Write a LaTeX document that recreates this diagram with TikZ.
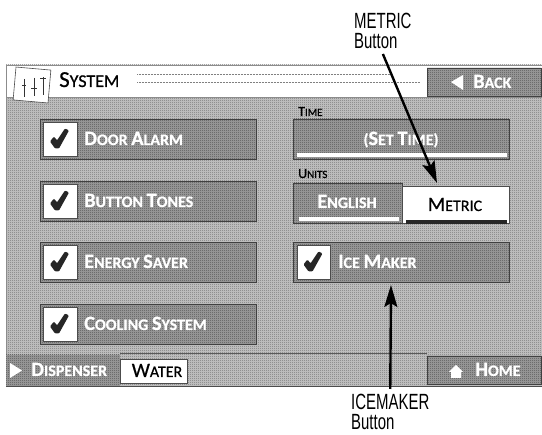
\documentclass[tikz,border=0pt]{standalone}
\usepackage{fontspec}
\setmainfont[FakeBold=0.7]{Carlito}
\newfontfamily\calloutfont[FakeStretch=0.68]{Liberation Sans}
\usepackage{tikz}
\usetikzlibrary{arrows.meta, patterns}
\newcommand{\ic}[1]{\scalebox{1.27}{#1}}
\pgfdeclarepatternformonly{dither}{\pgfqpoint{0pt}{0pt}}{\pgfqpoint{2pt}{2pt}}{\pgfqpoint{2pt}{2pt}}{%
	\pgfpathrectangle{\pgfqpoint{0pt}{0pt}}{\pgfqpoint{1pt}{1pt}}%
	\pgfpathrectangle{\pgfqpoint{1pt}{1pt}}{\pgfqpoint{1pt}{1pt}}%
	\pgfusepath{fill}}
\begin{document}
\begin{tikzpicture}[x=1pt, y=-1pt,
	btn/.style={draw=black!75, line width=0.8pt, preaction={fill=black!38}, pattern=dither, pattern color=black!68, inner sep=0pt},
	whitebox/.style={draw=black!70, line width=0.6pt, fill=white, inner sep=0pt},
	bigbtn/.style={btn, minimum width=216pt, minimum height=40pt},
	tickbox/.style={whitebox, minimum width=34pt, minimum height=34pt},
	wtext/.style={text=white, inner sep=0pt, font=\fontsize{16}{16}\bfseries},
	btext/.style={text=black, inner sep=0pt, font=\fontsize{16}{16}\selectfont},
	small/.style={text=black, inner sep=0pt, font=\fontsize{11}{11}\selectfont},
	callout/.style={inner sep=0pt, align=left, font=\fontsize{22}{20}\calloutfont},
	pointer/.style={line width=2.4pt, -{Stealth[length=22pt, width=13pt, inset=4pt]}},
	tickmark/.pic={\fill[black!85, rounded corners=1pt] (-10,2) -- (-6,-3) -- (-3,1) -- (5,-11) -- (9,-9) -- (-1,9) -- (-5,9) -- cycle;}]
	\useasboundingbox (0,0) rectangle (542,435);

	% Экран и заголовок
	\fill[black!22] (6,65) rectangle (542,386);
	\fill[pattern=dither, pattern color=black!55] (6,65) rectangle (542,386);
	\fill[white] (6,66) rectangle (542,98);
	\draw[black!45, line width=0.8pt] (6,386) -- (6,65) -- (542,65);
	\draw[black!45, line width=1pt] (6,98) -- (542,98);
	\draw[black!70, line width=0.8pt] (6,386) -- (542,386);
	\draw[black!50, densely dotted, line width=0.5pt] (137,74) -- (390,74);
	\draw[black!50, densely dotted, line width=0.5pt] (137,82) -- (420,82);

	% Значок и название
	\node[whitebox, rotate=-5, minimum width=35pt, minimum height=33pt] (sysicon) at (32,85) {};
	\draw[black!80, line width=0.7pt] (24,79) -- (24,97) (22,85) -- (26,85);
	\draw[black!80, line width=0.7pt] (34,78) -- (34,96) (31,88) -- (37,88);
	\draw[black!80, line width=0.7pt] (43,77) -- (43,95) (40,78) -- (46,78);
	\node[btext, anchor=base west, font=\fontsize{18}{18}\selectfont] (systitle) at (59,87) {\ic{S}YSTEM};

	% Кнопка назад
	\node[btn, minimum width=114pt, minimum height=28pt] (backbtn) at (484,82) {};
	\fill[white] (451,82) -- (463,75) -- (463,90) -- cycle;
	\node[wtext, anchor=base west] (backtext) at (473,88) {\ic{B}ACK};

	% Левый столбец
	\node[bigbtn] (dooralarm) at (148,139.5) {};
	\node[bigbtn] (buttontones) at (148,201.5) {};
	\node[bigbtn] (energysaver) at (148,262.5) {};
	\node[bigbtn] (coolingsystem) at (148,324.5) {};
	\node[tickbox] (dooralarmbox) at (60,139.5) {};
	\node[tickbox] (buttontonesbox) at (60,201.5) {};
	\node[tickbox] (energysaverbox) at (60,262.5) {};
	\node[tickbox] (coolingsystembox) at (60,324.5) {};
	\pic at (dooralarmbox) {tickmark};
	\pic at (buttontonesbox) {tickmark};
	\pic at (energysaverbox) {tickmark};
	\pic at (coolingsystembox) {tickmark};
	\node[wtext, anchor=base west] (dooralarmtext) at (84,145) {\ic{D}OOR \ic{A}LARM};
	\node[wtext, anchor=base west] (buttontonestext) at (84,207) {\ic{B}UTTON \ic{T}ONES};
	\node[wtext, anchor=base west] (energysavertext) at (84,268) {\ic{E}NERGY \ic{S}AVER};
	\node[wtext, anchor=base west] (coolingsystemtext) at (84,330) {\ic{C}OOLING \ic{S}YSTEM};

	% Время
	\node[small, anchor=base west] (timetext) at (298,116) {\ic{T}IME};
	\node[bigbtn] (timebtn) at (401,139) {};
	\fill[white] (297,153) rectangle (507,157);
	\node[wtext, anchor=base] (settime) at (401,145) {(\ic{S}ET \ic{T}IME)};

	% Единицы
	\node[small, anchor=base west] (unitstext) at (298,178) {\ic{U}NITS};
	\node[btn, minimum width=109pt, minimum height=40pt] (englishbtn) at (347.5,203) {};
	\node[whitebox, minimum width=107pt, minimum height=37pt] (metricbtn) at (455.5,204.5) {};
	\fill[white] (299,217) rectangle (399,221);
	\fill[black!85] (406,220) rectangle (507,224);
	\node[wtext, anchor=base] (englishtext) at (347,208) {\ic{E}NGLISH};
	\node[btext, anchor=base] (metrictext) at (455,211) {\ic{M}ETRIC};

	% Лёд
	\node[bigbtn] (icemaker) at (401,262.5) {};
	\node[tickbox, minimum width=33pt] (icemakerbox) at (313.5,262.5) {};
	\pic at (icemakerbox) {tickmark};
	\node[wtext, anchor=base west] (icemakertext) at (338,268) {\ic{I}CE \ic{M}AKER};

	% Нижняя строка
	\draw[black!65, line width=0.5pt] (120,353) -- (427,353);
	\node[btn, draw=none, minimum width=114pt, minimum height=31pt] (dispenser) at (63,370.5) {};
	\fill[white] (10,363) -- (22,370.5) -- (10,378) -- cycle;
	\node[wtext, anchor=base west] (dispensertext) at (31,376) {\ic{D}ISPENSER};
	\node[whitebox, minimum width=67pt, minimum height=24pt] (waterbtn) at (153.5,371) {};
	\node[btext, anchor=base] (watertext) at (157,377) {\ic{W}ATER};
	\node[btn, minimum width=114pt, minimum height=28pt] (homebtn) at (484,370) {};
	\fill[white] (449,372) -- (456,365) -- (463,372) -- (461,372) -- (461,378) -- (451,378) -- (451,372) -- cycle;
	\node[wtext, anchor=base west] (hometext) at (475,376) {\ic{H}OME};

	% Подписи и стрелки
	\node[callout, anchor=north west] (metriclabel) at (354,13) {METRIC\\Button};
	\node[callout, anchor=north west] (icelabel) at (351,394) {ICEMAKER\\Button};
	\coordinate (metrictip) at (437,183);
	\coordinate (icetip) at (391,285);
	\draw[pointer] (metriclabel.south) ++(0,5) -- (metrictip);
	\draw[pointer] (icelabel.north) ++(0,-5) -- (icetip);
\end{tikzpicture}
\end{document}
